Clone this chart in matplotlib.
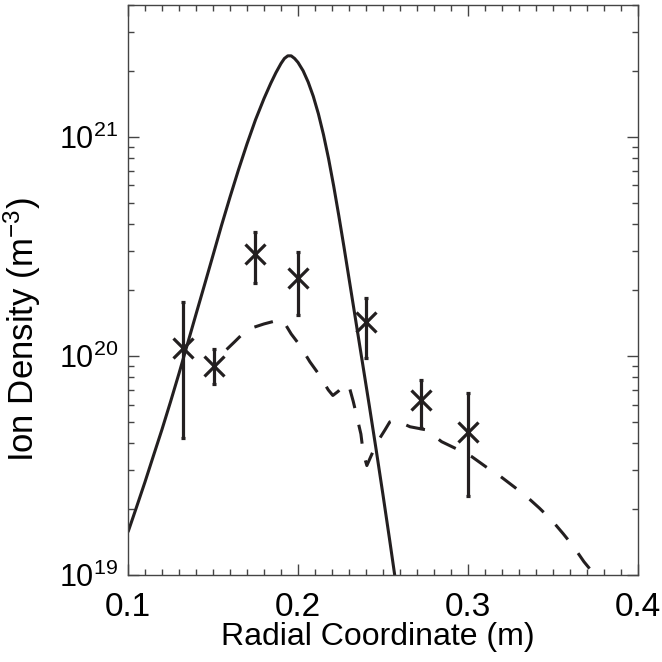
import matplotlib
matplotlib.use("Agg")
import matplotlib.pyplot as plt
from matplotlib.ticker import LogLocator, NullFormatter, FixedLocator, MultipleLocator

plt.rcParams["font.family"] = ["Liberation Sans", "DejaVu Sans"]
plt.rcParams["mathtext.fontset"] = "custom"
plt.rcParams["mathtext.rm"] = "Liberation Sans"
plt.rcParams["mathtext.default"] = "regular"

INK = "#231f20"

# model profile (solid)
model_r = [0.100, 0.105, 0.110, 0.115, 0.120, 0.125, 0.130, 0.135, 0.140, 0.145,
           0.150, 0.155, 0.160, 0.165, 0.170, 0.175, 0.180, 0.184, 0.187, 0.190,
           0.192, 0.194, 0.196, 0.198, 0.200, 0.203, 0.206, 0.209, 0.212, 0.215,
           0.218, 0.221, 0.224, 0.227, 0.230, 0.234, 0.238, 0.242, 0.246, 0.250,
           0.254, 0.258, 0.262]
model_n = [1.57e19, 2.04e19, 2.66e19, 3.51e19, 4.62e19, 6.17e19, 8.32e19, 1.135e20, 1.55e20, 2.11e20,
           2.88e20, 3.94e20, 5.31e20, 7.08e20, 9.29e20, 1.197e21, 1.496e21, 1.758e21, 1.963e21, 2.163e21,
           2.280e21, 2.344e21, 2.344e21, 2.280e21, 2.188e21, 2.004e21, 1.778e21, 1.531e21, 1.274e21, 1.023e21,
           7.94e20, 5.96e20, 4.37e20, 3.16e20, 2.26e20, 1.445e20, 9.23e19, 5.89e19, 3.72e19, 2.32e19,
           1.43e19, 8.7e18, 5.2e18]

# second profile (dashed)
dash_r = [0.158, 0.1627, 0.170, 0.180, 0.186, 0.191, 0.196, 0.201, 0.207, 0.212,
          0.2178, 0.2205, 0.2237, 0.228, 0.2302, 0.2325, 0.2341, 0.237, 0.2384, 0.2405,
          0.2463, 0.2512, 0.254, 0.2571, 0.2659, 0.2753, 0.2845, 0.2937, 0.3022, 0.311,
          0.3188, 0.3276, 0.3345, 0.342, 0.3492, 0.3561, 0.362, 0.3682, 0.3737, 0.380]
dash_n = [1.07e20, 1.16e20, 1.32e20, 1.40e20, 1.44e20, 1.46e20, 1.26e20, 1.12e20, 9.4e19, 8.3e19,
          7.0e19, 6.6e19, 6.9e19, 7.5e19, 7.2e19, 6.2e19, 5.5e19, 4.4e19, 3.6e19, 3.16e19,
          4.0e19, 4.6e19, 5.0e19, 5.1e19, 4.75e19, 4.6e19, 4.06e19, 3.75e19, 3.47e19, 3.10e19,
          2.83e19, 2.51e19, 2.28e19, 2.02e19, 1.78e19, 1.54e19, 1.35e19, 1.15e19, 1.02e19, 8.5e18]

# measurements
meas_r = [0.1324, 0.1506, 0.175, 0.200, 0.240, 0.2724, 0.300]
meas_n = [1.09e20, 9.0e19, 2.92e20, 2.27e20, 1.43e20, 6.3e19, 4.5e19]
meas_lo = [4.2e19, 7.45e19, 2.15e20, 1.54e20, 9.8e19, 4.69e19, 2.3e19]
meas_hi = [1.76e20, 1.08e20, 3.68e20, 2.98e20, 1.84e20, 7.77e19, 6.78e19]

fig = plt.figure(figsize=(6.62, 6.62), dpi=100)
ax = fig.add_axes([128 / 662, 87 / 662, 510 / 662, 570 / 662])

ax.plot(model_r, model_n, color=INK, lw=2.2, solid_capstyle="butt", solid_joinstyle="round")
ax.plot(dash_r, dash_n, color=INK, lw=2.2, linestyle=(0, (6.3, 5.6)), dash_capstyle="butt")

yerr = [[n - lo for n, lo in zip(meas_n, meas_lo)], [hi - n for n, hi in zip(meas_n, meas_hi)]]
ax.errorbar(meas_r, meas_n, yerr=yerr, fmt="x", color=INK, ms=15, mew=2.3,
            elinewidth=2.3, capsize=1.6, capthick=2.3)

ax.set_yscale("log")
ax.set_xlim(0.1, 0.4)
ax.set_ylim(1e19, 4e21)

ax.xaxis.set_major_locator(FixedLocator([0.1, 0.2, 0.3, 0.4]))
ax.xaxis.set_minor_locator(MultipleLocator(0.01))
ax.set_xticklabels(["0.1", "0.2", "0.3", "0.4"])
ax.yaxis.set_minor_locator(LogLocator(base=10, subs=range(2, 10)))
ax.yaxis.set_minor_formatter(NullFormatter())
ax.set_yticks([1e19, 1e20, 1e21])
ax.set_yticklabels([r"$10^{19}$", r"$10^{20}$", r"$10^{21}$"])

ax.tick_params(which="both", direction="in", top=True, right=True, width=1.0, color="#444444")
ax.tick_params(which="major", length=8)
ax.tick_params(axis="x", which="major", pad=12, labelsize=24)
ax.tick_params(axis="y", which="major", pad=7, labelsize=22)
ax.tick_params(which="minor", length=4)
for s in ax.spines.values():
    s.set_linewidth(1.0)
    s.set_color("#444444")

ax.set_xlabel("Radial Coordinate (m)", fontsize=23)
ax.set_ylabel(r"Ion Density (m$^{-3}$)", fontsize=25)
ax.xaxis.set_label_coords(0.49, -0.082)
ax.yaxis.set_label_coords(-0.166, 0.43)

fig.savefig("out.png", dpi=100)
